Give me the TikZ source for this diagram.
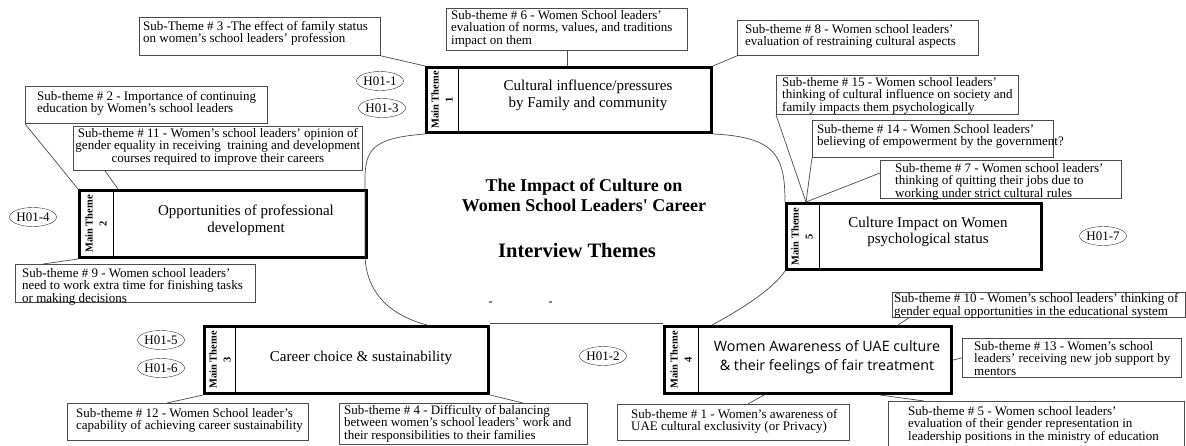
\documentclass[tikz,border=0pt]{standalone}
\usepackage{fontspec}
\setmainfont{Liberation Serif}
\newfontfamily\awarefont{Open Sans}
\usetikzlibrary{positioning, shapes.geometric}

\begin{document}
\begin{tikzpicture}[x=1pt, y=-1pt,
    subbox/.style={draw=black!70, line width=0.8pt, anchor=north west, inner sep=0pt},
    subtext/.style={anchor=north west, align=left, inner sep=0pt, font=\fontsize{13}{12.5}\selectfont},
    mainbox/.style={draw, line width=3pt, anchor=north west, inner sep=0pt},
    maintext/.style={align=center, font=\fontsize{15}{17}\selectfont},
    mainlabel/.style={rotate=90, align=center, inner sep=0pt, font=\bfseries\fontsize{10.5}{14}\selectfont},
    hyp/.style={draw=black!80, ellipse, inner sep=0pt, minimum width=46, minimum height=19, font=\fontsize{13}{13}\selectfont},
    link/.style={draw=black!70, line width=0.7pt}]
	\useasboundingbox[fill=white] (0,0) rectangle (1186,445);

	% Main themes
	\node[mainbox, minimum width=285, minimum height=65] (m1) at (425,66) {};
	\draw ([xshift=33]m1.north west) -- ([xshift=33]m1.south west);
	\node[mainlabel] (l1) at ([xshift=17]m1.west) {Main Theme\\1};
	\node[maintext] (c1) at (588,95) {Cultural influence/pressures\\by Family and community};

	\node[mainbox, minimum width=287, minimum height=67] (m2) at (78,189) {};
	\draw ([xshift=35]m2.north west) -- ([xshift=35]m2.south west);
	\node[mainlabel] (l2) at ([xshift=18]m2.west) {Main Theme\\2};
	\node[maintext] (c2) at (246,220) {Opportunities of professional\\development};

	\node[mainbox, minimum width=284, minimum height=67] (m3) at (203,325) {};
	\draw ([xshift=32]m3.north west) -- ([xshift=32]m3.south west);
	\node[mainlabel] (l3) at ([xshift=17]m3.west) {Main Theme\\3};
	\node[maintext] (c3) at (361,358) {Career choice \& sustainability};

	\node[mainbox, minimum width=287, minimum height=67] (m4) at (663,325) {};
	\draw ([xshift=35]m4.north west) -- ([xshift=35]m4.south west);
	\node[mainlabel] (l4) at ([xshift=18]m4.west) {Main Theme\\4};
	\node[maintext, font=\awarefont\fontsize{14.3}{19}\selectfont] (c4) at (827,357) {Women Awareness of UAE culture\\\& their feelings of fair treatment};

	\node[mainbox, minimum width=255, minimum height=66] (m5) at (785,202) {};
	\draw ([xshift=34]m5.north west) -- ([xshift=34]m5.south west);
	\node[mainlabel] (l5) at ([xshift=17]m5.west) {Main Theme\\5};
	\node[maintext, font=\fontsize{15}{15.5}\selectfont] (c5) at (928,232) {Culture Impact on Women\\psychological status};

	% Centre
	\draw[link] (m1.south west) .. controls (372,138) and (365,150) .. (365,180) -- (365,255)
		.. controls (366,300) and (400,318) .. ([xshift=224]m3.north west);
	\draw[link] ([yshift=2]m3.north east) -- ([yshift=2]m4.north west);
	\draw[link] ([xshift=49]m4.north west) .. controls (740,310) and (772,290) .. (m5.south west);
	\draw[link] (m5.north west) .. controls (785,155) and (775,137) .. (m1.south east);
	\node[align=center, font=\bfseries\fontsize{18}{20}\selectfont] (title) at (584,195) {The Impact of Culture on\\Women School Leaders\textquotesingle{} Career};
	\node[font=\bfseries\fontsize{20.5}{21}\selectfont] (sub) at (577,250) {Interview Themes};
	\fill[gray] (489,301) rectangle (492,303);
	\fill[gray] (549,301) rectangle (552,303);

	% Sub-themes
	\node[subbox, minimum width=241, minimum height=38] (s3) at (139,17) {};
	\node[subtext] (t3) at ([shift={(4,4)}]s3.north west) {Sub-Theme \# 3 -The effect of family status\\on women’s school leaders’ profession};
	\node[subbox, minimum width=241, minimum height=42] (s6) at (446,8) {};
	\node[subtext] (t6) at ([shift={(5,2)}]s6.north west) {Sub-theme \# 6 - Women School leaders’\\evaluation of norms, values, and traditions\\impact on them};
	\node[subbox, minimum width=241, minimum height=35] (s8) at (737,20) {};
	\node[subtext] (t8) at ([shift={(8,4)}]s8.north west) {Sub-theme \# 8 - Women school leaders’\\evaluation of restraining cultural aspects};
	\node[subbox, minimum width=242, minimum height=37] (s2) at (25,86) {};
	\node[subtext] (t2) at ([shift={(12,5)}]s2.north west) {Sub-theme \# 2 - Importance of continuing\\education by Women’s school leaders};
	\node[subbox, minimum width=289, minimum height=44] (s11) at (73,126) {};
	\node[subtext, anchor=north, align=center] (t11) at ([yshift=-2]s11.north) {Sub-theme \# 11 - Women’s school leaders’ opinion of\\gender equality in receiving\ \ training and development\\courses required to improve their careers};
	\node[subbox, minimum width=240, minimum height=38] (s9) at (15,264) {};
	\node[subtext] (t9) at ([shift={(7,4)}]s9.north west) {Sub-theme \# 9 - Women school leaders’\\need to work extra time for finishing tasks\\or making decisions};
	\node[subbox, minimum width=242, minimum height=39] (s15) at (776,75) {};
	\node[subtext] (t15) at ([shift={(6,2)}]s15.north west) {Sub-theme \# 15 - Women school leaders’\\thinking of cultural influence on society and\\family impacts them psychologically};
	\node[subbox, minimum width=241, minimum height=37] (s14) at (812,120) {};
	\node[subtext] (t14) at ([shift={(5,4)}]s14.north west) {Sub-theme \# 14 - Women School leaders’\\believing of empowerment by the government?};
	\node[subbox, minimum width=241, minimum height=38] (s7) at (880,160) {};
	\node[subtext] (t7) at ([shift={(15,3)}]s7.north west) {Sub-theme \# 7 - Women school leaders’\\thinking of quitting their jobs due to\\working under strict cultural rules};
	\node[subbox, minimum width=293, minimum height=25] (s10) at (892,292) {};
	\node[subtext, font=\fontsize{13}{11}\selectfont] (t10) at ([shift={(2,1)}]s10.north west) {Sub-theme \# 10 - Women’s school leaders’ thinking of\\gender equal opportunities in the educational system};
	\node[subbox, minimum width=219, minimum height=39] (s13) at (962,338) {};
	\node[subtext] (t13) at ([shift={(12,3)}]s13.north west) {Sub-theme \# 13 - Women’s school\\leaders’ receiving new job support by\\mentors};
	\node[subbox, minimum width=232, minimum height=36] (s1) at (617,404) {};
	\node[subtext] (t1) at ([shift={(14,5)}]s1.north west) {Sub-theme \# 1 - Women’s awareness of\\UAE cultural exclusivity (or Privacy)};
	\node[subbox, minimum width=296, minimum height=50] (s5) at (888,401) {};
	\node[subtext] (t5) at ([shift={(20,5)}]s5.north west) {Sub-theme \# 5 - Women school leaders’\\evaluation of their gender representation in\\leadership positions in the ministry of education};
	\node[subbox, minimum width=241, minimum height=37] (s12) at (67,403) {};
	\node[subtext] (t12) at ([shift={(9,5)}]s12.north west) {Sub-theme \# 12 - Women School leader’s\\capability of achieving career sustainability};
	\node[subbox, minimum width=248, minimum height=41] (s4) at (339,403) {};
	\node[subtext] (t4) at ([shift={(5,2)}]s4.north west) {Sub-theme \# 4 - Difficulty of balancing\\between women’s school leaders’ work and\\their responsibilities to their families};

	% Links
	\draw[link] (s3.south east) -- (m1.north west);
	\draw[link] (s6.south) -- (s6.south |- m1.north);
	\draw[link] (s8.south west) -- (m1.north east);
	\draw[link] (s2.south west) -- (m2.north west);
	\draw[link] ([xshift=32]s11.south west) -- ([xshift=40]m2.north west);
	\draw[link] ([xshift=28]s9.north west) -- (m2.south west);
	\coordinate (m5top) at ([xshift=21]m5.north west);
	\draw[link] (s15.south west) -- (m5top);
	\draw[link] (s14.south west) -- (m5top);
	\draw[link] ([yshift=-13]s7.north west) -- (m5top);
	\draw[link] (m3.south west) -- ([xshift=100]s12.north west);
	\draw[link] (m3.south east) -- ([xshift=184]s4.north west);
	\draw[link] ([xshift=235]m4.north west) -- ([xshift=17]s10.south west);
	\draw[link] (m4.east) -- (s13.west);
	\draw[link] ([xshift=101]m4.south west) -- ([xshift=131]s1.north west);
	\draw[link] ([xshift=217]m4.south west) -- ([xshift=36]s5.north west);

	% Hypotheses
	\node[hyp] (h1) at (380,81) {H01-1};
	\node[hyp] (h3) at (382,108) {H01-3};
	\node[hyp] (h4) at (33,217) {H01-4};
	\node[hyp] (h5) at (161,340) {H01-5};
	\node[hyp] (h6) at (161,368) {H01-6};
	\node[hyp] (h2) at (603,356) {H01-2};
	\node[hyp] (h7) at (1103,236) {H01-7};
\end{tikzpicture}
\end{document}
